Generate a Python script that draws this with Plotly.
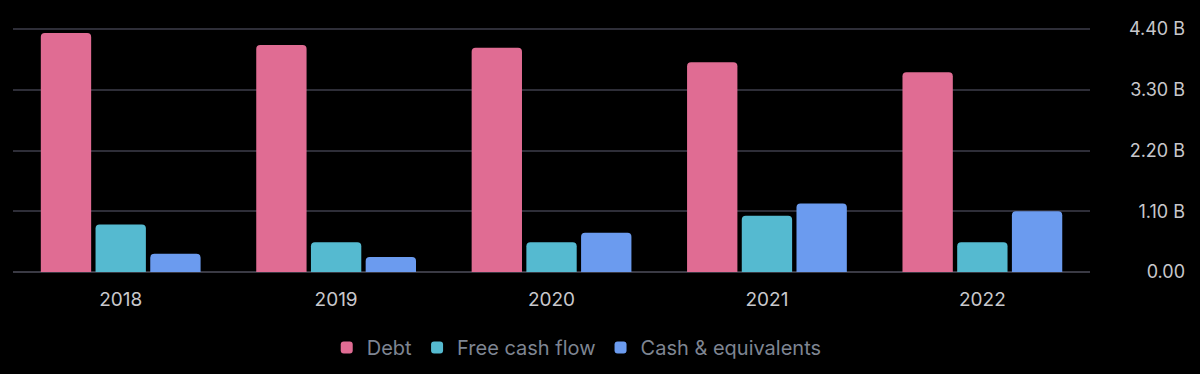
import plotly.graph_objects as go

years = ["2018", "2019", "2020", "2021", "2022"]
debt = [4.33e9, 4.11e9, 4.06e9, 3.80e9, 3.62e9]
free_cash_flow = [0.86e9, 0.54e9, 0.54e9, 1.02e9, 0.54e9]
cash_equivalents = [0.33e9, 0.27e9, 0.71e9, 1.24e9, 1.10e9]

tick_vals = [0, 1.1e9, 2.2e9, 3.3e9, 4.4e9]
tick_text = ["0.00", "1.10 B", "2.20 B", "3.30 B", "4.40 B"]

series = [
    ("Debt", debt, "#E06C93"),
    ("Free cash flow", free_cash_flow, "#55BAD0"),
    ("Cash & equivalents", cash_equivalents, "#6B9BEF"),
]

fig = go.Figure()
for name, vals, color in series:
    fig.add_trace(go.Bar(x=years, y=vals, name=name, marker=dict(color=color, line=dict(width=0))))

fig.update_layout(
    width=1200, height=374,
    paper_bgcolor="#000000", plot_bgcolor="#000000",
    margin=dict(l=13, r=15, t=28, b=102, autoexpand=False),
    barmode="group", bargap=0.238, bargroupgap=0.08, barcornerradius=4,
    font=dict(family="Inter, Roboto, sans-serif"),
    showlegend=True,
    legend=dict(orientation="h", x=0.481, xanchor="center", y=-0.309, yanchor="middle",
                font=dict(size=20, color="#7E8592"), bgcolor="rgba(0,0,0,0)",
                itemclick=False, tracegroupgap=0),
    xaxis=dict(domain=[0, 0.919], showgrid=False, zeroline=False, showline=False, automargin=False,
               ticks="", tickfont=dict(size=19, color="#C8C8CC"), ticklabelstandoff=14),
    yaxis=dict(side="left", anchor="free", position=1.0, range=[0, 4.42e9], automargin=False,
               tickvals=tick_vals, ticktext=tick_text, showgrid=True, gridcolor="#2E2E38",
               gridwidth=1.5, zeroline=True, zerolinecolor="#3A3A44", zerolinewidth=1.5,
               showline=False, ticks="", tickfont=dict(size=18, color="#C8C8CC")),
)

fig.write_html(
    "out.html",
    config={"displayModeBar": False},
    post_script="document.body.style.margin='0';document.body.style.background='#000';",
)
